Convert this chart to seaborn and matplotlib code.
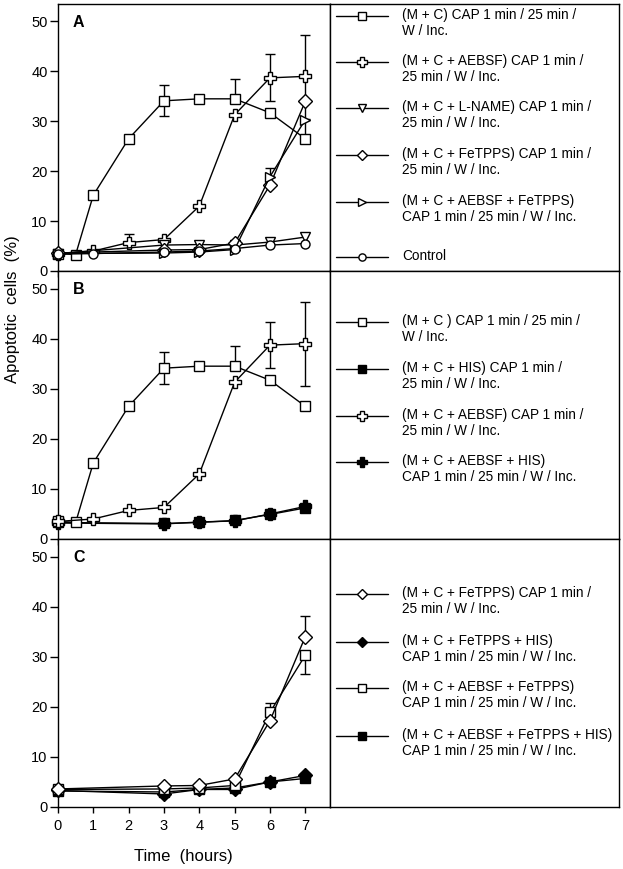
import matplotlib
matplotlib.use("Agg")
import matplotlib.pyplot as plt
from matplotlib.lines import Line2D
import seaborn as sns

# ---- data ----
hours_mc = [0, 0.5, 1, 2, 3, 4, 5, 6, 7]
mc_y = [3.5, 3.3, 15.2, 26.5, 34.1, 34.5, 34.5, 31.7, 26.5]
mc_err_lo = [0, 0, 0, 0, 3.1, 0, 0, 0, 0]
mc_err_hi = [0, 0, 0, 0, 3.2, 0, 4.0, 0, 0]

hours_aebsf = [0, 1, 2, 3, 4, 5, 6, 7]
aebsf_y = [3.5, 4.0, 5.7, 6.3, 13.0, 31.3, 38.7, 39.0]
aebsf_err_lo = [0, 0, 0, 0, 0, 0, 4.6, 8.5]
aebsf_err_hi_a = [0, 0, 1.8, 0, 0, 0, 4.7, 8.3]
aebsf_err_hi_b = [0, 0, 0, 0, 0, 0, 4.7, 8.3]

hours_late = [0, 3, 4, 5, 6, 7]
lname_y = [3.5, 5.2, 5.3, 5.2, 5.8, 6.8]
fetpps_y = [3.6, 4.2, 4.3, 5.6, 17.2, 34.0]
fetpps_err_lo = [0, 0, 0, 0, 0, 0]
fetpps_err_hi = [0, 0, 0, 0, 0, 4.2]
aebsf_fetpps_y = [3.5, 3.6, 3.8, 4.3, 18.9, 30.3]
aebsf_fetpps_err_lo = [0, 0, 0, 0, 0, 3.8]
aebsf_fetpps_err_hi = [0, 0, 0, 0, 1.8, 0]

hours_control = [0, 1, 3, 4, 5, 6, 7]
control_y = [3.4, 3.5, 3.8, 4.0, 4.5, 5.2, 5.5]

his_y = [3.3, 3.1, 3.3, 3.7, 4.9, 6.2]
aebsf_his_y = [3.2, 3.0, 3.4, 3.6, 5.0, 6.5]
fetpps_his_y = [3.3, 2.6, 3.5, 3.5, 5.0, 6.3]
aebsf_fetpps_his_y = [3.2, 3.0, 3.5, 3.8, 5.0, 5.7]

# ---- style ----
sns.set_style("ticks")
plt.rcParams['font.family'] = ['Liberation Sans', 'DejaVu Sans']
plt.rcParams['text.color'] = 'black'
plt.rcParams['xtick.color'] = 'black'
plt.rcParams['ytick.color'] = 'black'
plt.rcParams['axes.labelcolor'] = 'black'

W, H = 623, 869
fig = plt.figure(figsize=(W / 100, H / 100), dpi=100)

MS = {'s': 6.8, 'P': 8.5, 'v': 7.5, 'D': 7, '>': 7.5, 'o': 6.5}


def style(marker, filled, scale=1.0):
	return dict(marker=marker, markersize=MS[marker] * scale,
				markerfacecolor='black' if filled else 'white',
				markeredgecolor='black', markeredgewidth=1,
				color='black', linewidth=1)


def px_axes(x0, x1, y0, y1):
	return fig.add_axes([x0 / W, 1 - y1 / H, (x1 - x0) / W, (y1 - y0) / H])


def series(ax, x, y, marker, filled, err=None):
	if err is not None:
		ax.errorbar(x, y, yerr=[err[0], err[1]], fmt='none', ecolor='black',
					elinewidth=1, capsize=3.5, capthick=1, zorder=2, clip_on=False)
	sns.lineplot(x=x, y=y, ax=ax, zorder=3, clip_on=False, **style(marker, filled))


def plot_panel(y0, y1, letter, lines, show_x):
	ax = px_axes(58, 330, y0, y1)
	for args in lines:
		series(ax, *args)
	ax.set_xlim(0, 7.7)
	ax.set_ylim(0, 53.5)
	ax.set_xticks(range(8))
	ax.set_yticks(range(0, 51, 10))
	ax.tick_params(axis='y', direction='out', length=5.5, width=1, labelsize=10.5, pad=2)
	ax.tick_params(axis='x', direction='out', length=4.5, width=1, labelsize=10.5,
				   labelbottom=show_x, pad=4)
	for s in ax.spines.values():
		s.set_linewidth(1)
		s.set_color('black')
	ax.set_xlabel('')
	ax.set_ylabel('')
	ax.text(0.055, 0.96, letter, transform=ax.transAxes, va='top', ha='left',
			fontsize=11.5, fontweight='bold')
	return ax


def legend_panel(y0, y1, entries):
	ax = px_axes(330, 619, y0, y1)
	ax.set_xlim(330, 619)
	ax.set_ylim(y1, y0)
	ax.set_xticks([])
	ax.set_yticks([])
	for s in ax.spines.values():
		s.set_linewidth(1)
		s.set_color('black')
	for ypos, marker, filled, label in entries:
		ax.add_line(Line2D([336, 362, 388], [ypos, ypos, ypos], markevery=[1],
						   **style(marker, filled, 0.8)))
		# first text line centred on the handle
		ax.text(402, ypos - 8, label, va='top', ha='left', fontsize=9.8,
				linespacing=1.15)
	return ax


A_top, A_bot, B_bot, C_bot = 4, 271, 539, 807

plot_panel(A_top, A_bot, 'A', [
	(hours_mc, mc_y, 's', False, (mc_err_lo, mc_err_hi)),
	(hours_aebsf, aebsf_y, 'P', False, (aebsf_err_lo, aebsf_err_hi_a)),
	(hours_late, lname_y, 'v', False),
	(hours_late, fetpps_y, 'D', False),
	(hours_late, aebsf_fetpps_y, '>', False, (aebsf_fetpps_err_lo, aebsf_fetpps_err_hi)),
	(hours_control, control_y, 'o', False),
], False)

plot_panel(A_bot, B_bot, 'B', [
	(hours_late, his_y, 's', True),
	(hours_late, aebsf_his_y, 'P', True),
	(hours_mc, mc_y, 's', False, (mc_err_lo, mc_err_hi)),
	(hours_aebsf, aebsf_y, 'P', False, (aebsf_err_lo, aebsf_err_hi_b)),
], False)

plot_panel(B_bot, C_bot, 'C', [
	(hours_late, fetpps_his_y, 'D', True),
	(hours_late, aebsf_fetpps_his_y, 's', True),
	(hours_late, aebsf_fetpps_y, 's', False, (aebsf_fetpps_err_lo, aebsf_fetpps_err_hi)),
	(hours_late, fetpps_y, 'D', False, (fetpps_err_lo, fetpps_err_hi)),
], True)

legend_panel(A_top, A_bot, [
	(16, 's', False, '(M + C) CAP 1 min / 25 min /\nW / Inc.'),
	(62, 'P', False, '(M + C + AEBSF) CAP 1 min /\n25 min / W / Inc.'),
	(108, 'v', False, '(M + C + L-NAME) CAP 1 min /\n25 min / W / Inc.'),
	(155, 'D', False, '(M + C + FeTPPS) CAP 1 min /\n25 min / W / Inc.'),
	(202, '>', False, '(M + C + AEBSF + FeTPPS)\nCAP 1 min / 25 min / W / Inc.'),
	(257, 'o', False, 'Control'),
])
legend_panel(A_bot, B_bot, [
	(322, 's', False, '(M + C ) CAP 1 min / 25 min /\nW / Inc.'),
	(369, 's', True, '(M + C + HIS) CAP 1 min /\n25 min / W / Inc.'),
	(416, 'P', False, '(M + C + AEBSF) CAP 1 min /\n25 min / W / Inc.'),
	(462, 'P', True, '(M + C + AEBSF + HIS)\nCAP 1 min / 25 min / W / Inc.'),
])
legend_panel(B_bot, C_bot, [
	(594, 'D', False, '(M + C + FeTPPS) CAP 1 min /\n25 min / W / Inc.'),
	(642, 'D', True, '(M + C + FeTPPS + HIS)\nCAP 1 min / 25 min / W / Inc.'),
	(688, 's', False, '(M + C + AEBSF + FeTPPS)\nCAP 1 min / 25 min / W / Inc.'),
	(736, 's', True, '(M + C + AEBSF + FeTPPS + HIS)\nCAP 1 min / 25 min / W / Inc.'),
])

fig.text(13 / W, 1 - 309 / H, 'Apoptotic  cells  (%)', rotation=90,
		 ha='center', va='center', fontsize=12)
fig.text(183 / W, 1 - 857 / H, 'Time  (hours)', ha='center', va='center', fontsize=12)

fig.savefig('out.png', dpi=100)
